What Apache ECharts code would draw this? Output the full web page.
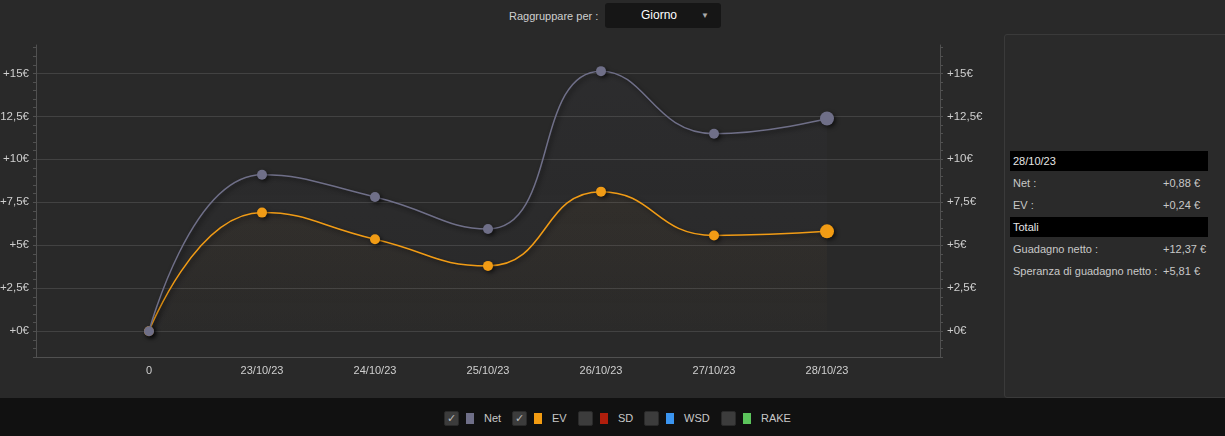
<!DOCTYPE html>
<html>
<head>
<meta charset="utf-8">
<script src="https://cdn.jsdelivr.net/npm/echarts@6/dist/echarts.min.js"></script>
<style>
    html, body { margin: 0; padding: 0; width: 1225px; height: 436px; overflow: hidden; background: #292929;
        font-family: "Liberation Sans", Arial, sans-serif; font-size: 11px; color: #d0d0d0; }
    #top { position: absolute; left: 0; top: 0; width: 1225px; height: 32px; }
    #top .lbl { position: absolute; left: 509px; top: 10px; color: #cfcfcf; }
    #top .sel { position: absolute; left: 605px; top: 3px; width: 116px; height: 25px; background: #161616;
        border-radius: 3px; color: #fff; font-size: 12px; line-height: 25px; }
    #top .sel span { position: absolute; left: 36px; }
    #top .sel i { position: absolute; left: 96px; top: 0; font-style: normal; font-size: 8px; color: #aaa; }
    #chart { position: absolute; left: 0; top: 0; width: 1000px; height: 398px; }
    #panel { position: absolute; left: 1004px; top: 34px; width: 230px; height: 362px; background: #2a2a2a;
        border: 1px solid #3a3a3a; border-radius: 3px; }
    #panel .row { position: absolute; left: 5px; width: 198px; height: 20px; line-height: 20px; color: #c8c8c8; }
    #panel .row.hd { background: #000; color: #e6e6e6; }
    #panel .row span { position: absolute; left: 3px; }
    #panel .row b { position: absolute; left: 153px; font-weight: normal; }
    #legend { position: absolute; left: 0; top: 398px; width: 1225px; height: 38px; background: #111; }
    #legend .cb { position: absolute; top: 13px; width: 13px; height: 13px; background: #3c3c3c; border: 1px solid #2a2a2a;
        border-radius: 2px; color: #bbb; font-size: 11px; line-height: 13px; text-align: center; }
    #legend .sq { position: absolute; top: 15px; width: 8px; height: 11px; }
    #legend .tx { position: absolute; top: 14px; color: #c8c8c8; }
</style>
</head>
<body>
<div id="top">
    <div class="lbl">Raggruppare per :</div>
    <div class="sel"><span>Giorno</span><i>▼</i></div>
</div>
<div id="chart"></div>
<div id="panel">
    <div class="row hd" style="top:116px"><span>28/10/23</span></div>
    <div class="row" style="top:138px"><span>Net :</span><b>+0,88 €</b></div>
    <div class="row" style="top:160px"><span>EV :</span><b>+0,24 €</b></div>
    <div class="row hd" style="top:182px"><span>Totali</span></div>
    <div class="row" style="top:204px"><span>Guadagno netto :</span><b>+12,37 €</b></div>
    <div class="row" style="top:226px"><span>Speranza di guadagno netto :</span><b>+5,81 €</b></div>
</div>
<div id="legend"></div>
<script>
    // dati
    var categories = ['0', '23/10/23', '24/10/23', '25/10/23', '26/10/23', '27/10/23', '28/10/23'];
    var netValues = [0, 9.10, 7.81, 5.95, 15.13, 11.49, 12.37];
    var evValues = [0, 6.90, 5.35, 3.80, 8.12, 5.57, 5.81];
    var yLabels = [0, 2.5, 5, 7.5, 10, 12.5, 15];
    var yMinorTicks = [];
    for (var t = -1.5; t <= 16.5; t += 0.5) { yMinorTicks.push(Math.round(t * 10) / 10); }

    var legendItems = [
        { name: 'Net', color: '#6f6f88', checked: true, x: 444 },
        { name: 'EV', color: '#f39c12', checked: true, x: 512 },
        { name: 'SD', color: '#b01e0c', checked: false, x: 578 },
        { name: 'WSD', color: '#3b95f0', checked: false, x: 644 },
        { name: 'RAKE', color: '#5cc45c', checked: false, x: 721 }
    ];

    // legenda in basso
    var lg = document.getElementById('legend');
    legendItems.forEach(function (it) {
        lg.insertAdjacentHTML('beforeend',
            '<div class="cb" style="left:' + it.x + 'px">' + (it.checked ? '✓' : '') + '</div>' +
            '<div class="sq" style="left:' + (it.x + 22) + 'px;background:' + it.color + '"></div>' +
            '<div class="tx" style="left:' + (it.x + 40) + 'px">' + it.name + '</div>');
    });

    var fmtEuro = function (v) {
        return '+' + String(v).replace('.', ',') + '€';
    };

    var pointData = function (values) {
        return values.map(function (v, i) {
            var item = { value: [i, v] };
            if (i === values.length - 1) { item.symbolSize = 14; }
            return item;
        });
    };

    var yAxisBase = function (pos) {
        return {
            type: 'value', position: pos, min: -1.5, max: 16.65,
            axisLine: { show: true, onZero: false, lineStyle: { color: '#505050' } },
            axisTick: { show: true, length: 3, customValues: yMinorTicks, lineStyle: { color: '#505050' } },
            axisLabel: { customValues: yLabels, formatter: fmtEuro, color: '#cfcfcf', fontSize: 11.5, margin: 7,
                fontFamily: 'Liberation Sans' },
            splitLine: { show: false }
        };
    };

    var gridAxis = {
        type: 'value', position: 'left', min: -1.5, max: 16.65,
        axisLine: { show: false, onZero: false },
        axisTick: { show: false, customValues: yLabels },
        axisLabel: { show: false, customValues: yLabels },
        splitLine: { show: true, lineStyle: { color: '#424242', width: 1 } }
    };

    var areaFill = function (r, g, b, a) {
        return {
            color: new echarts.graphic.LinearGradient(0, 0, 0, 1, [
                { offset: 0, color: 'rgba(' + r + ',' + g + ',' + b + ',' + a + ')' },
                { offset: 1, color: 'rgba(' + r + ',' + g + ',' + b + ',0.01)' }
            ])
        };
    };

    var shadow = { shadowColor: 'rgba(0,0,0,0.6)', shadowBlur: 4, shadowOffsetX: 2, shadowOffsetY: 2 };

    var myChart = echarts.init(document.getElementById('chart'));
    var option = {
        backgroundColor: 'transparent',
        animation: false,
        grid: { left: 36, right: 60, top: 45, bottom: 41, outerBoundsMode: 'none', containLabel: false },
        xAxis: {
            type: 'value', min: -1, max: 7, interval: 1,
            axisLine: { show: true, onZero: false, lineStyle: { color: '#505050' } },
            axisTick: { show: false },
            splitLine: { show: false },
            axisLabel: {
                color: '#cfcfcf', fontSize: 11, margin: 8, fontFamily: 'Liberation Sans',
                formatter: function (v) { return categories[v] !== undefined ? categories[v] : ''; }
            }
        },
        yAxis: [yAxisBase('left'), yAxisBase('right'), gridAxis],
        series: [
            {
                name: 'EV', type: 'line', yAxisIndex: 0, smooth: 0.5,
                data: pointData(evValues),
                symbol: 'circle', symbolSize: 10,
                lineStyle: Object.assign({ color: '#f39c12', width: 1.5 }, shadow),
                itemStyle: Object.assign({ color: '#f39c12' }, shadow),
                areaStyle: areaFill(243, 156, 18, 0.05),
                z: 3
            },
            {
                name: 'Net', type: 'line', yAxisIndex: 0, smooth: 0.5,
                data: pointData(netValues),
                symbol: 'circle', symbolSize: 10,
                lineStyle: Object.assign({ color: '#6f6f88', width: 1.5 }, shadow),
                itemStyle: Object.assign({ color: '#6f6f88' }, shadow),
                areaStyle: areaFill(130, 130, 170, 0.06),
                z: 4
            }
        ]
    };
    myChart.setOption(option);
</script>
</body>
</html>
